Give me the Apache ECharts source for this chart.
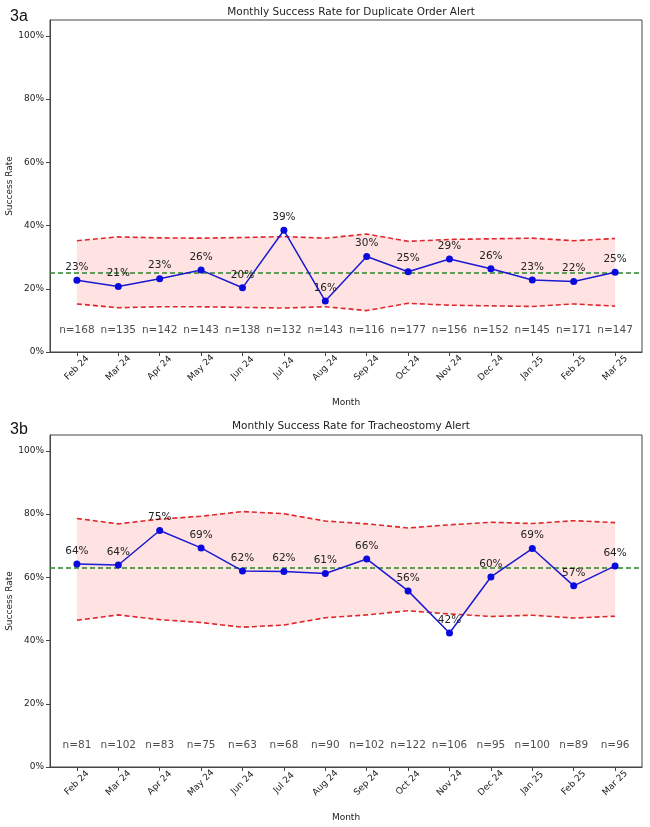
<!DOCTYPE html>
<html style="height: 100%">
<head>
<meta charset="utf-8" />
<title>Monthly Success Rate</title>
<script src="https://cdn.jsdelivr.net/npm/echarts@6/dist/echarts.min.js"></script>
</head>
<body style="height: 100%; margin: 0; background: #fff">
<div id="container" style="width: 650px; height: 827px"></div>
<script type="text/javascript">
// month categories, shared by both panels
const months = ['Feb 24', 'Mar 24', 'Apr 24', 'May 24', 'Jun 24', 'Jul 24', 'Aug 24',
  'Sep 24', 'Oct 24', 'Nov 24', 'Dec 24', 'Jan 25', 'Feb 25', 'Mar 25'];

// 3a - Duplicate Order Alert
const dupRate = [0.227, 0.207, 0.232, 0.259, 0.203, 0.385, 0.161, 0.302, 0.254, 0.294, 0.263, 0.228, 0.223, 0.252];
const dupN = [168, 135, 142, 143, 138, 132, 143, 116, 177, 156, 152, 145, 171, 147];
const dupUcl = [0.352, 0.364, 0.361, 0.360, 0.362, 0.365, 0.360, 0.373, 0.350, 0.356, 0.358, 0.360, 0.352, 0.359];
const dupLcl = [0.152, 0.140, 0.143, 0.143, 0.141, 0.139, 0.143, 0.131, 0.154, 0.148, 0.146, 0.144, 0.152, 0.145];
const dupCenter = 0.252;

// 3b - Tracheostomy Alert
const trachRate = [0.642, 0.639, 0.748, 0.693, 0.620, 0.618, 0.612, 0.658, 0.557, 0.424, 0.601, 0.691, 0.573, 0.636];
const trachN = [81, 102, 83, 75, 63, 68, 90, 102, 122, 106, 95, 100, 89, 96];
const trachUcl = [0.786, 0.769, 0.784, 0.793, 0.808, 0.801, 0.778, 0.769, 0.756, 0.766, 0.774, 0.770, 0.779, 0.773];
const trachLcl = [0.464, 0.481, 0.466, 0.457, 0.442, 0.449, 0.472, 0.481, 0.494, 0.484, 0.476, 0.480, 0.471, 0.477];
const trachCenter = 0.625;

const yTicks = [0, 0.2, 0.4, 0.6, 0.8, 1.0];
const idx = months.map((m, i) => i);
const axisColor = '#444';
const textColor = '#222';

function makeAxes(g) {
  let xAxis = {
    type: 'value', gridIndex: g, min: -0.65, max: 13.65,
    splitLine: {show: false},
    axisLine: {onZero: false, lineStyle: {color: axisColor}},
    axisTick: {customValues: idx, length: 4, lineStyle: {color: axisColor}},
    axisLabel: {
      customValues: idx, formatter: v => months[Math.round(v)],
      rotate: 45, align: 'center', verticalAlign: 'middle', margin: 16,
      fontSize: 9, color: textColor
    },
    name: 'Month', nameLocation: 'middle', nameGap: 46,
    nameTextStyle: {fontSize: 9, color: textColor}
  };
  let yAxis = {
    type: 'value', gridIndex: g, min: 0, max: 1.05,
    splitLine: {show: false},
    axisLine: {show: true, onZero: false, lineStyle: {color: axisColor}},
    axisTick: {show: true, customValues: yTicks, length: 4, lineStyle: {color: axisColor}},
    axisLabel: {customValues: yTicks, formatter: v => Math.round(v * 100) + '%', fontSize: 9, color: textColor, margin: 6},
    name: 'Success Rate', nameLocation: 'middle', nameGap: 36, nameRotate: 90, nameMoveOverlap: false,
    nameTextStyle: {fontSize: 9, color: textColor}
  };
  return [xAxis, yAxis];
}

function makeSeries(g, rate, n, ucl, lcl, center) {
  let band = {
    type: 'custom', xAxisIndex: g, yAxisIndex: g, silent: true, z: 1,
    data: [[0, 0]],
    renderItem: (params, api) => {
      let pts = [];
      ucl.forEach((v, i) => pts.push(api.coord([i, v])));
      for (let i = lcl.length - 1; i >= 0; i--) pts.push(api.coord([i, lcl[i]]));
      return {type: 'polygon', shape: {points: pts}, style: {fill: 'rgba(255, 40, 40, 0.13)'}};
    }
  };
  let limitStyle = {color: '#e3262b', width: 1.6, type: [5, 3]};
  let uclLine = {
    type: 'line', xAxisIndex: g, yAxisIndex: g, symbol: 'none', silent: true, z: 2,
    data: ucl.map((v, i) => [i, v]), lineStyle: limitStyle,
    markLine: {
      symbol: 'none', silent: true, label: {show: false},
      lineStyle: {color: '#2a862a', width: 1.5, type: [5, 3]},
      data: [{yAxis: center}]
    }
  };
  let lclLine = {
    type: 'line', xAxisIndex: g, yAxisIndex: g, symbol: 'none', silent: true, z: 2,
    data: lcl.map((v, i) => [i, v]), lineStyle: limitStyle
  };
  let rateLine = {
    type: 'line', xAxisIndex: g, yAxisIndex: g, z: 5,
    data: rate.map((v, i) => [i, v]),
    symbol: 'circle', symbolSize: 7,
    itemStyle: {color: '#0a0adf'},
    lineStyle: {color: '#1a1ad0', width: 1.5},
    label: {
      show: true, position: 'top', distance: 4, fontSize: 10.5, color: textColor,
      formatter: p => Math.round(p.data[1] * 100) + '%'
    }
  };
  let nLabels = {
    type: 'scatter', xAxisIndex: g, yAxisIndex: g, symbolSize: 0, silent: true, z: 6,
    data: n.map((v, i) => [i, 0.07, v]),
    label: {show: true, position: 'inside', fontSize: 10.5, color: textColor, formatter: p => 'n=' + p.data[2]}
  };
  return [band, uclLine, lclLine, rateLine, nLabels];
}

const axesA = makeAxes(0);
const axesB = makeAxes(1);

let chart = echarts.init(document.getElementById('container'), null, {renderer: 'canvas'});
chart.setOption({
  animation: false,
  backgroundColor: '#fff',
  textStyle: {fontFamily: 'DejaVu Sans'},
  title: [
    {text: 'Monthly Success Rate for Duplicate Order Alert', left: 346, top: 2, textAlign: 'center',
      textStyle: {fontSize: 10.5, fontWeight: 'normal', color: textColor}},
    {text: 'Monthly Success Rate for Tracheostomy Alert', left: 346, top: 416, textAlign: 'center',
      textStyle: {fontSize: 10.5, fontWeight: 'normal', color: textColor}},
    {text: '3a', left: 5, top: 4, textStyle: {fontSize: 16, fontWeight: 'normal', color: '#111', fontFamily: 'Liberation Sans'}},
    {text: '3b', left: 5, top: 417, textStyle: {fontSize: 16, fontWeight: 'normal', color: '#111', fontFamily: 'Liberation Sans'}}
  ],
  grid: [
    {left: 50, right: 8, top: 20, height: 332, outerBoundsMode: 'none', containLabel: false,
      show: true, borderColor: axisColor, borderWidth: 1},
    {left: 50, right: 8, top: 435, height: 332, outerBoundsMode: 'none', containLabel: false,
      show: true, borderColor: axisColor, borderWidth: 1}
  ],
  xAxis: [axesA[0], axesB[0]],
  yAxis: [axesA[1], axesB[1]],
  series: [
    ...makeSeries(0, dupRate, dupN, dupUcl, dupLcl, dupCenter),
    ...makeSeries(1, trachRate, trachN, trachUcl, trachLcl, trachCenter)
  ]
});
</script>
</body>
</html>
